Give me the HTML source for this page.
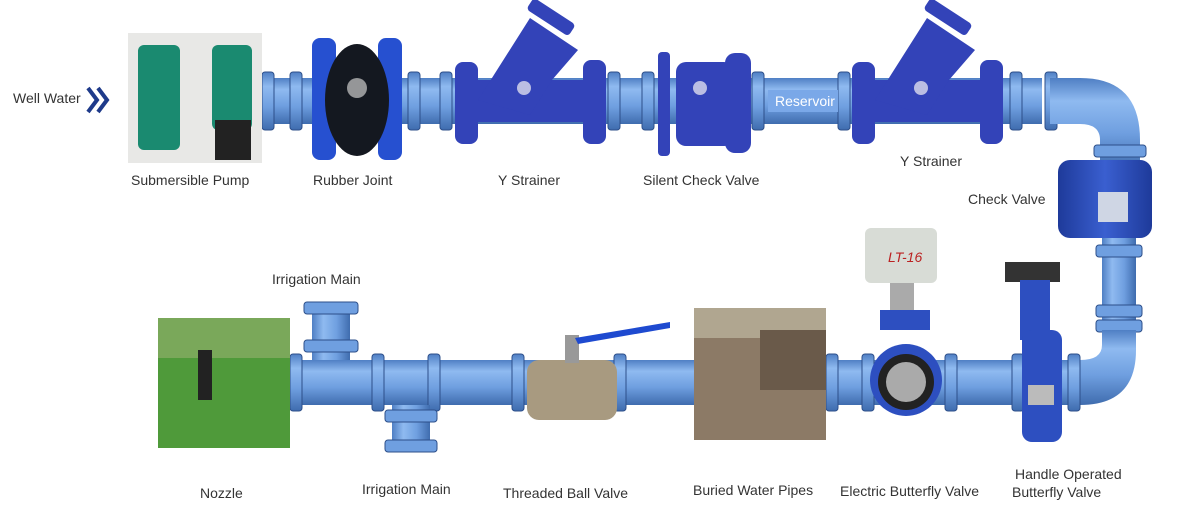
<!DOCTYPE html>
<html><head><meta charset="utf-8"><style>
html,body{margin:0;padding:0;background:#fff;}
svg{display:block}
text{font-family:"Liberation Sans",sans-serif;font-size:14px;fill:#333}
</style></head><body>
<svg width="1201" height="520" viewBox="0 0 1201 520" xmlns="http://www.w3.org/2000/svg">
<defs>
<linearGradient id="pv" x1="0" y1="0" x2="0" y2="1">
<stop offset="0" stop-color="#4f7fc4"/><stop offset=".25" stop-color="#8fbaf0"/><stop offset=".6" stop-color="#6f9fe0"/><stop offset="1" stop-color="#3f6cae"/></linearGradient>
<linearGradient id="ph" x1="0" y1="0" x2="1" y2="0">
<stop offset="0" stop-color="#4f7fc4"/><stop offset=".3" stop-color="#8fbaf0"/><stop offset=".65" stop-color="#6f9fe0"/><stop offset="1" stop-color="#3f6cae"/></linearGradient>
<linearGradient id="dv" x1="0" y1="0" x2="1" y2="0">
<stop offset="0" stop-color="#1e3a9a"/><stop offset=".5" stop-color="#3a5fd0"/><stop offset="1" stop-color="#1e3a9a"/></linearGradient>
</defs>
<rect x="262" y="78" width="780" height="46" fill="url(#pv)"/>
<g fill="url(#pv)" stroke="#2d4f8a" stroke-width="1">
<rect x="262" y="72" width="12" height="58" rx="3"/><rect x="290" y="72" width="12" height="58" rx="3"/>
<rect x="408" y="72" width="12" height="58" rx="3"/><rect x="440" y="72" width="12" height="58" rx="3"/>
<rect x="608" y="72" width="12" height="58" rx="3"/><rect x="642" y="72" width="12" height="58" rx="3"/>
<rect x="752" y="72" width="12" height="58" rx="3"/><rect x="838" y="72" width="12" height="58" rx="3"/>
<rect x="1010" y="72" width="12" height="58" rx="3"/><rect x="1045" y="72" width="12" height="58" rx="3"/>
</g>
<path d="M1050 78 L1080 78 Q1140 78 1140 140 L1140 170 L1100 170 L1100 140 Q1100 124 1080 124 L1050 124 Z" fill="url(#pv)"/>
<rect x="1094" y="145" width="52" height="12" rx="3" fill="#6f9fe0" stroke="#2d4f8a"/>
<rect x="1058" y="160" width="94" height="78" rx="12" fill="url(#dv)"/>
<rect x="1098" y="192" width="30" height="30" fill="#cfd6e4"/>
<rect x="1102" y="238" width="34" height="110" fill="url(#ph)"/>
<rect x="1096" y="245" width="46" height="12" rx="3" fill="#6f9fe0" stroke="#2d4f8a"/>
<rect x="1096" y="305" width="46" height="12" rx="3" fill="#6f9fe0" stroke="#2d4f8a"/>
<rect x="1096" y="320" width="46" height="12" rx="3" fill="#6f9fe0" stroke="#2d4f8a"/>
<path d="M1102 330 L1136 330 L1136 350 Q1136 405 1080 405 L1060 405 L1060 360 L1080 360 Q1102 360 1102 345 Z" fill="url(#pv)"/>
<rect x="290" y="360" width="780" height="45" fill="url(#pv)"/>
<g fill="url(#pv)" stroke="#2d4f8a">
<rect x="290" y="354" width="12" height="57" rx="3"/><rect x="372" y="354" width="12" height="57" rx="3"/>
<rect x="428" y="354" width="12" height="57" rx="3"/><rect x="512" y="354" width="12" height="57" rx="3"/>
<rect x="614" y="354" width="12" height="57" rx="3"/><rect x="826" y="354" width="12" height="57" rx="3"/>
<rect x="862" y="354" width="12" height="57" rx="3"/><rect x="945" y="354" width="12" height="57" rx="3"/>
<rect x="1012" y="354" width="12" height="57" rx="3"/><rect x="1068" y="354" width="12" height="57" rx="3"/>
</g>
<rect x="312" y="310" width="38" height="50" fill="url(#ph)"/>
<rect x="304" y="302" width="54" height="12" rx="3" fill="#6f9fe0" stroke="#2d4f8a"/>
<rect x="304" y="340" width="54" height="12" rx="3" fill="#6f9fe0" stroke="#2d4f8a"/>
<rect x="392" y="405" width="38" height="45" fill="url(#ph)"/>
<rect x="385" y="410" width="52" height="12" rx="3" fill="#6f9fe0" stroke="#2d4f8a"/>
<rect x="385" y="440" width="52" height="12" rx="3" fill="#6f9fe0" stroke="#2d4f8a"/>
<text x="13" y="103">Well Water</text>
<path d="M88 88 L97 100 L88 112 M98 88 L107 100 L98 112" stroke="#1e3a8a" stroke-width="4" fill="none"/>
<rect x="128" y="33" width="134" height="130" fill="#e8e8e6"/>
<rect x="138" y="45" width="42" height="105" rx="6" fill="#1a8a70"/>
<rect x="212" y="45" width="40" height="85" rx="6" fill="#1a8a70"/>
<rect x="215" y="120" width="36" height="40" fill="#222"/>
<rect x="312" y="38" width="24" height="122" rx="8" fill="#2650d0"/>
<rect x="378" y="38" width="24" height="122" rx="8" fill="#2650d0"/>
<ellipse cx="357" cy="100" rx="32" ry="56" fill="#141820"/>
<circle cx="357" cy="88" r="10" fill="#ccc" opacity=".7"/>
<g fill="#3343b8">
<path d="M470 80 L590 80 L590 122 L470 122 Z"/>
<path d="M478 100 L530 18 L578 50 L552 80 L530 115 Z"/>
<rect x="526" y="10" width="50" height="14" rx="4" transform="rotate(33 551 17)"/>
<rect x="455" y="62" width="23" height="82" rx="8"/><rect x="583" y="60" width="23" height="84" rx="8"/>
</g>
<circle cx="524" cy="88" r="7" fill="#dde" opacity=".8"/>
<rect x="658" y="52" width="12" height="104" rx="4" fill="#3343b8"/>
<rect x="676" y="62" width="58" height="84" rx="10" fill="#3343b8"/>
<rect x="725" y="53" width="26" height="100" rx="10" fill="#3343b8"/>
<circle cx="700" cy="88" r="7" fill="#dde" opacity=".8"/>
<rect x="768" y="90" width="70" height="22" fill="#7aa8e8"/>
<text x="775" y="106" font-size="12" style="fill:#fff">Reservoir</text>
<g fill="#3343b8">
<path d="M867 80 L987 80 L987 122 L867 122 Z"/>
<path d="M875 100 L927 18 L975 50 L949 80 L927 115 Z"/>
<rect x="923" y="10" width="50" height="14" rx="4" transform="rotate(33 948 17)"/>
<rect x="852" y="62" width="23" height="82" rx="8"/><rect x="980" y="60" width="23" height="84" rx="8"/>
</g>
<circle cx="921" cy="88" r="7" fill="#dde" opacity=".8"/>
<rect x="158" y="318" width="132" height="130" fill="#4f9a3a"/>
<rect x="158" y="318" width="132" height="40" fill="#7aa85a"/>
<rect x="198" y="350" width="14" height="50" fill="#222"/>
<rect x="527" y="360" width="90" height="60" rx="12" fill="#a89a80"/>
<rect x="565" y="335" width="14" height="28" fill="#999"/>
<path d="M575 338 L670 322 L670 328 L578 344Z" fill="#1e4ad0"/>
<rect x="694" y="308" width="132" height="132" fill="#8c7a66"/>
<rect x="694" y="308" width="132" height="30" fill="#b0a690"/>
<rect x="760" y="330" width="66" height="60" fill="#6a5a4a"/>
<rect x="865" y="228" width="72" height="55" rx="6" fill="#d8dcd6"/>
<text x="888" y="262" font-size="10" style="fill:#b22;font-style:italic">LT-16</text>
<rect x="890" y="283" width="24" height="30" fill="#aaa"/>
<rect x="880" y="310" width="50" height="20" fill="#2d4fc0"/>
<circle cx="906" cy="380" r="36" fill="#2d4fc0"/><circle cx="906" cy="382" r="28" fill="#222"/><circle cx="906" cy="382" r="20" fill="#aaa"/>
<rect x="1005" y="262" width="55" height="20" fill="#333"/>
<rect x="1020" y="280" width="30" height="60" fill="#2d4fc0"/>
<rect x="1022" y="330" width="40" height="112" rx="10" fill="#2d4fc0"/>
<rect x="1028" y="385" width="26" height="20" fill="#bbb"/>
<text x="131" y="185">Submersible Pump</text>
<text x="313" y="185">Rubber Joint</text>
<text x="498" y="185">Y Strainer</text>
<text x="643" y="185">Silent Check Valve</text>
<text x="900" y="166">Y Strainer</text>
<text x="968" y="204">Check Valve</text>
<text x="272" y="284">Irrigation Main</text>
<text x="200" y="498">Nozzle</text>
<text x="362" y="494">Irrigation Main</text>
<text x="503" y="498">Threaded Ball Valve</text>
<text x="693" y="495">Buried Water Pipes</text>
<text x="840" y="496">Electric Butterfly Valve</text>
<text x="1015" y="479">Handle Operated</text>
<text x="1012" y="497">Butterfly Valve</text>
</svg>
</body></html>
